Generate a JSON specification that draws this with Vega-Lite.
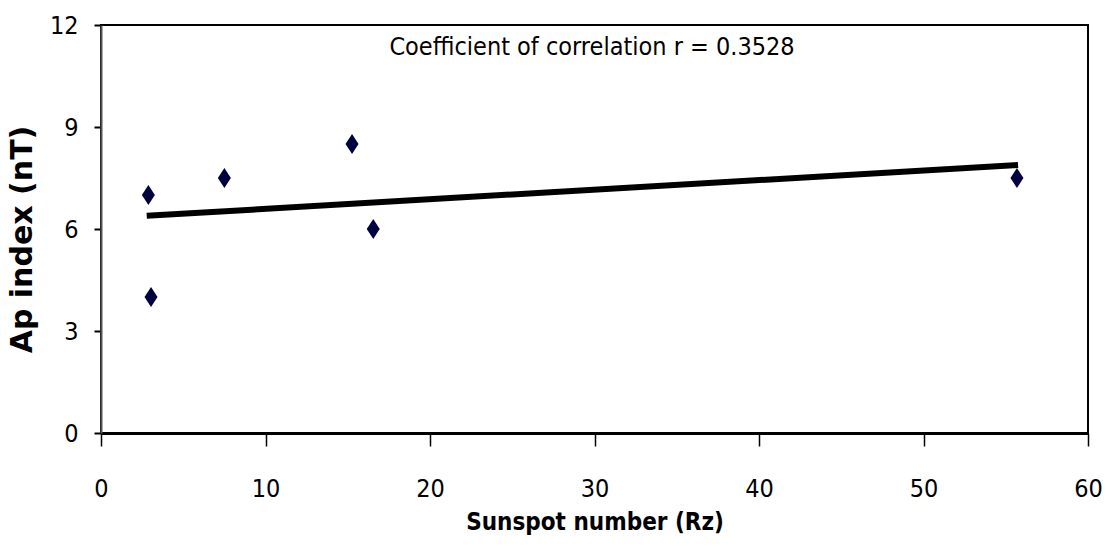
{
  "$schema": "https://vega.github.io/schema/vega-lite/v6.json",
  "width": 987,
  "height": 408,
  "autosize": {"type": "none"},
  "padding": {"left": 101, "top": 25, "right": 21, "bottom": 114},
  "background": "white",
  "config": {
    "view": {"stroke": "black", "strokeWidth": 2},
    "font": "'Liberation Sans Narrow', 'DejaVu Sans Condensed', 'Liberation Sans', sans-serif"
  },
  "datasets": {
    "points": [
      {"rz": 2.88, "ap": 7.0},
      {"rz": 3.04, "ap": 4.0},
      {"rz": 7.5, "ap": 7.5},
      {"rz": 15.26, "ap": 8.5},
      {"rz": 16.55, "ap": 6.0},
      {"rz": 55.68, "ap": 7.5}
    ],
    "trend": [
      {"rz": 2.78, "ap": 6.39},
      {"rz": 55.75, "ap": 7.88}
    ]
  },
  "layer": [
    {
      "data": {"name": "trend"},
      "mark": {"type": "line", "color": "black", "strokeWidth": 6},
      "encoding": {
        "x": {
          "field": "rz", "type": "quantitative",
          "scale": {"domain": [0, 60], "nice": false, "zero": false},
          "axis": {
            "title": "Sunspot number (Rz)",
            "values": [0, 10, 20, 30, 40, 50, 60],
            "grid": false,
            "domainColor": "black", "domainWidth": 3,
            "tickColor": "black", "tickWidth": 1.5, "tickSize": 13,
            "labelFont": "'Liberation Sans Narrow', 'DejaVu Sans Condensed', 'Liberation Sans', sans-serif", "labelFontSize": 25, "labelColor": "black",
            "labelPadding": 30, "labelFlush": false,
            "titleFont": "'Liberation Sans Narrow', 'DejaVu Sans Condensed', 'Liberation Sans', sans-serif", "titleFontSize": 24, "titleFontWeight": "bold",
            "titleColor": "black", "titlePadding": 9
          }
        },
        "y": {
          "field": "ap", "type": "quantitative",
          "scale": {"domain": [0, 12], "nice": false, "zero": false},
          "axis": {
            "title": "Ap index (nT)",
            "values": [0, 3, 6, 9, 12],
            "grid": false,
            "domainColor": "#555555", "domainWidth": 2,
            "tickColor": "black", "tickWidth": 2, "tickSize": 7,
            "labelFont": "'Liberation Sans Narrow', 'DejaVu Sans Condensed', 'Liberation Sans', sans-serif", "labelFontSize": 25, "labelColor": "black",
            "labelPadding": 16, "labelFlush": false,
            "titleFont": "DejaVu Sans", "titleFontSize": 30, "titleFontWeight": "bold",
            "titleColor": "black", "titlePadding": 12, "titleY": 214
          }
        }
      }
    },
    {
      "data": {"name": "points"},
      "mark": {
        "type": "point", "filled": true, "color": "#000040", "opacity": 1,
        "shape": "M0,-1L0.65,0L0,1L-0.65,0Z", "size": 400
      },
      "encoding": {
        "x": {"field": "rz", "type": "quantitative"},
        "y": {"field": "ap", "type": "quantitative"}
      }
    },
    {
      "data": {"values": [{"label": "Coefficient of correlation r = 0.3528"}]},
      "mark": {"type": "text", "font": "'Liberation Sans Narrow', 'DejaVu Sans Condensed', 'Liberation Sans', sans-serif", "fontSize": 25, "color": "black", "align": "center", "baseline": "middle"},
      "encoding": {
        "text": {"field": "label"},
        "x": {"datum": 29.85, "type": "quantitative"},
        "y": {"datum": 11.35, "type": "quantitative"}
      }
    }
  ]
}
